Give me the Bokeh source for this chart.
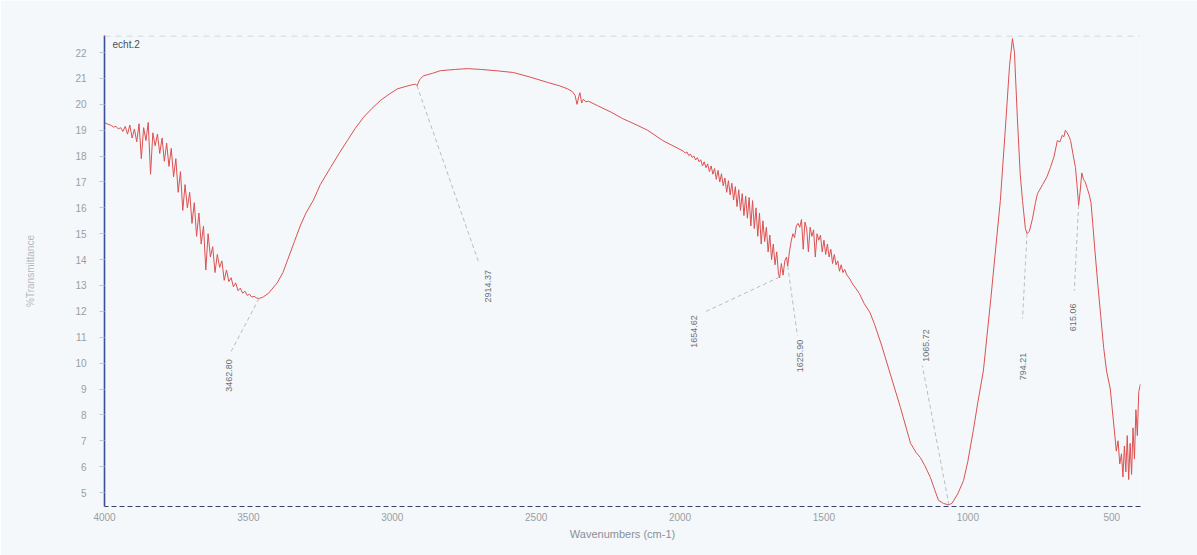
import numpy as np
from bokeh.plotting import figure
from bokeh.models import ColumnDataSource, Range1d, FixedTicker, Span, Label
from bokeh.core.properties import value
from bokeh.embed import file_html
from bokeh.resources import INLINE

# FT-IR spectrum: wavenumber (cm-1) and %transmittance
wavenumber = [
    4000, 3992, 3984, 3976, 3968, 3960, 3952, 3944, 3936, 3928, 3920, 3912, 3904, 3896, 3888,
    3880, 3872, 3864, 3856, 3848, 3840, 3832, 3824, 3816, 3808, 3800, 3792, 3784, 3776, 3768,
    3760, 3752, 3744, 3736, 3728, 3720, 3712, 3704, 3696, 3688, 3680, 3672, 3664, 3656, 3648,
    3640, 3632, 3624, 3616, 3608, 3600, 3592, 3584, 3576, 3568, 3560, 3552, 3544, 3536, 3528,
    3520, 3512, 3504, 3496, 3488, 3480, 3472, 3464, 3456, 3448,
    3430, 3400, 3380, 3360, 3340, 3320, 3300, 3274, 3250, 3215, 3185, 3156, 3130, 3100, 3070,
    3041, 3010, 2982, 2950, 2930, 2919, 2914, 2905, 2892, 2860, 2833, 2780, 2739, 2694, 2640,
    2579, 2520, 2461, 2420, 2391, 2375, 2365, 2358, 2352, 2348, 2342, 2336, 2328, 2318, 2287,
    2240, 2200, 2160, 2113, 2060,
    1990, 1982, 1976, 1970, 1964, 1958, 1952, 1946, 1940, 1934, 1928, 1922, 1916, 1910, 1904,
    1898, 1892, 1886, 1880, 1874, 1868, 1862, 1856, 1850, 1844, 1838, 1832, 1826, 1820, 1814,
    1808, 1802, 1796, 1790, 1784, 1778, 1772, 1766, 1760, 1754, 1748, 1742, 1736, 1730, 1724,
    1718, 1712, 1706, 1700, 1694, 1688, 1682, 1676, 1670, 1664, 1658, 1654, 1648, 1642, 1636,
    1630, 1626, 1620, 1614, 1608, 1602, 1596, 1590, 1584, 1578, 1572, 1566, 1560, 1554, 1548,
    1542, 1536, 1530, 1524, 1518, 1512, 1506, 1500, 1494, 1488, 1482, 1476, 1470, 1464, 1458,
    1452, 1446, 1440, 1434, 1428, 1420, 1410, 1400, 1390, 1377, 1360, 1340, 1325, 1300, 1270,
    1234, 1199, 1180, 1165, 1150, 1130, 1115, 1102, 1085, 1066, 1054, 1035, 1015, 1000, 981,
    965, 946, 920, 900, 887, 870, 855, 845, 838, 828, 818, 810, 800, 794, 786, 775, 765, 758,
    740, 725, 713, 700, 689, 680, 672, 666, 661, 655, 648, 643, 635, 626, 620, 615, 610, 604,
    598, 592, 585, 578, 572, 566, 558, 548, 538, 528, 518, 505, 498, 490, 484, 478, 472, 466,
    461, 456, 451, 446, 441, 436, 431, 426, 421, 416, 411, 406, 400,
]
transmittance = [
    19.30, 19.25, 19.22, 19.18, 19.12, 19.15, 19.05, 19.10, 18.95, 19.15, 18.85, 19.20, 18.70, 19.05, 18.55,
    19.25, 17.90, 19.10, 18.60, 19.30, 17.30, 18.90, 18.40, 18.85, 18.10, 18.70, 17.80, 18.50, 17.60, 18.30,
    17.20, 17.90, 16.60, 17.40, 15.90, 16.90, 16.00, 16.60, 15.40, 16.20, 14.90, 15.80, 14.60, 15.30, 13.60,
    15.00, 14.10, 14.50, 13.50, 14.20, 13.70, 13.95, 13.20, 13.60, 13.15, 13.30, 12.95, 13.10, 12.80, 12.90,
    12.70, 12.78, 12.62, 12.66, 12.55, 12.58, 12.52, 12.50, 12.52, 12.56,
    12.70, 13.10, 13.50, 14.10, 14.70, 15.30, 15.80, 16.30, 16.90, 17.55, 18.10, 18.60, 19.05, 19.50, 19.85,
    20.15, 20.40, 20.60, 20.70, 20.76, 20.78, 20.72, 20.95, 21.10, 21.20, 21.30, 21.35, 21.38, 21.35, 21.30,
    21.23, 21.05, 20.85, 20.72, 20.60, 20.50, 20.35, 20.00, 20.30, 20.45, 20.05, 20.20, 20.10, 20.12, 19.95,
    19.70, 19.45, 19.25, 19.00, 18.60,
    18.20, 18.12, 18.16, 18.02, 18.08, 17.95, 18.00, 17.85, 17.94, 17.78, 17.86, 17.62, 17.78, 17.55, 17.70,
    17.40, 17.62, 17.30, 17.52, 17.10, 17.45, 17.00, 17.32, 16.85, 17.15, 16.60, 17.05, 16.50, 16.95, 16.30,
    16.82, 16.05, 16.70, 15.90, 16.55, 15.70, 16.45, 15.60, 16.40, 15.30, 16.28, 15.20, 16.00, 14.90, 15.80,
    14.60, 15.50, 14.70, 15.25, 14.30, 14.95, 14.00, 14.60, 13.80, 14.30, 13.45, 13.30, 13.85, 13.40, 13.95,
    14.10, 13.75, 14.30, 14.70, 15.00, 14.85, 15.30, 15.40, 15.25, 15.55, 14.40, 15.45, 15.20, 14.30, 15.25,
    14.90, 15.15, 14.10, 15.00, 14.75, 14.95, 14.30, 14.75, 14.20, 14.60, 14.10, 14.40, 13.85, 14.20, 13.80,
    13.95, 13.55, 13.80, 13.50, 13.62, 13.40, 13.25, 13.05, 12.90, 12.69, 12.30, 11.95, 11.53, 10.70, 9.60,
    8.28, 6.90, 6.55, 6.35, 6.05, 5.58, 5.10, 4.70, 4.58, 4.52, 4.60, 4.95, 5.46, 6.20, 7.40,
    8.50, 9.70, 12.50, 14.80, 16.28, 19.00, 21.50, 22.54, 22.00, 19.50, 17.30, 16.28, 15.20, 15.00, 15.10, 15.60, 16.20, 16.55,
    16.90, 17.20, 17.56, 18.00, 18.60, 18.55, 18.80, 18.75, 19.00, 18.90, 18.75, 18.60, 18.10, 17.56, 16.80, 16.10, 16.60, 17.35,
    17.10, 17.00, 16.75, 16.50, 16.20, 15.40, 14.30, 13.00, 11.80, 10.60, 9.70, 9.00, 8.20, 7.30, 6.60, 7.00, 6.10, 6.50,
    5.60, 6.80, 5.80, 7.20, 5.50, 6.90, 5.70, 7.50, 6.30, 8.20, 7.20, 8.90, 9.20,
]

# Annotated bands
peak_wn = [3462.80, 2914.37, 1654.62, 1625.90, 1065.72, 794.21, 615.06]
peak_text = ["3462.80", "2914.37", "1654.62", "1625.90", "1065.72", "794.21", "615.06"]

# leader-line ends and label anchors (data coords)
leader_end_x = [3560, 2700, 1919, 1592, 1158, 810, 630]
leader_end_y = [10.45, 13.9, 11.95, 11.06, 9.9, 11.72, 12.8]
label_x = [3566, 2669, 1953, 1582, 1147, 807, 633]
label_y = [10.15, 13.6, 11.85, 10.9, 10.05, 10.4, 12.3]
label_align = ["right", "right", "right", "right", "left", "right", "right"]

x_ticks = [4000, 3500, 3000, 2500, 2000, 1500, 1000, 500]
y_ticks = list(range(5, 23))

BG = "#f4f8fb"
FONT = "Liberation Sans"

p = figure(
    width=1197, height=555,
    x_range=Range1d(4000, 400), y_range=Range1d(4.46, 22.66),
    output_backend="svg", toolbar_location=None,
    min_border_left=104, min_border_right=57, min_border_top=35, min_border_bottom=49,
    background_fill_color=BG, border_fill_color=BG,
)
p.outline_line_color = None
p.grid.visible = False

# spectrum trace
src = ColumnDataSource(dict(x=wavenumber, y=transmittance))
p.line("x", "y", source=src, line_color="#dc5050", line_width=1)

# leader lines from each band to its label
tr_at_peak = np.interp(peak_wn, wavenumber[::-1], transmittance[::-1])
p.segment(x0=peak_wn, y0=list(tr_at_peak), x1=leader_end_x, y1=leader_end_y,
          line_color="#a8adb2", line_width=0.8, line_dash="4 3")

lab_src = ColumnDataSource(dict(x=label_x, y=label_y, t=peak_text, a=label_align))
p.text(x="x", y="y", text="t", source=lab_src, angle=np.pi / 2,
       text_align="a", text_baseline="middle", text_font=value(FONT),
       text_font_size="9px", text_color="#6d7176")

# dashed top border of the chart
p.add_layout(Span(location=22.64, dimension="width", line_color="#c9cdd1",
                  line_dash="6 5", line_width=1))

p.add_layout(Label(x=3972, y=22.31, text="echt.2", text_font=FONT,
                   text_font_size="10px", text_color="#4a4f5a",
                   text_baseline="middle"))

# x axis
xa = p.xaxis[0]
xa.ticker = FixedTicker(ticks=x_ticks)
xa.axis_label = "Wavenumbers (cm-1)"
xa.axis_label_text_font = FONT
xa.axis_label_text_font_style = "normal"
xa.axis_label_text_font_size = "11px"
xa.axis_label_text_color = "#8a8f96"
xa.axis_label_standoff = 4
xa.major_label_text_font = FONT
xa.major_label_text_font_size = "10px"
xa.major_label_text_color = "#9a9ea4"
xa.major_label_standoff = 6
xa.major_tick_out = 0
xa.major_tick_in = 0
xa.minor_tick_out = 0
xa.minor_tick_in = 0
xa.axis_line_color = "#34406e"
xa.axis_line_dash = "5 3"
xa.axis_line_width = 1.2

# y axis
ya = p.yaxis[0]
ya.ticker = FixedTicker(ticks=y_ticks)
ya.axis_label = "%Transmittance"
ya.axis_label_text_font = FONT
ya.axis_label_text_font_style = "normal"
ya.axis_label_text_font_size = "10px"
ya.axis_label_text_color = "#b4b8bd"
ya.axis_label_standoff = 36
ya.major_label_text_font = FONT
ya.major_label_text_font_size = "10px"
ya.major_label_text_color = "#9a9ea4"
ya.major_label_standoff = 13
ya.major_tick_out = 5
ya.major_tick_in = 0
ya.major_tick_line_color = "#c4c8cc"
ya.minor_tick_out = 0
ya.minor_tick_in = 0
ya.axis_line_color = "#3b4f9a"
ya.axis_line_width = 1.6

open("out.html", "w").write(file_html(p, INLINE))
